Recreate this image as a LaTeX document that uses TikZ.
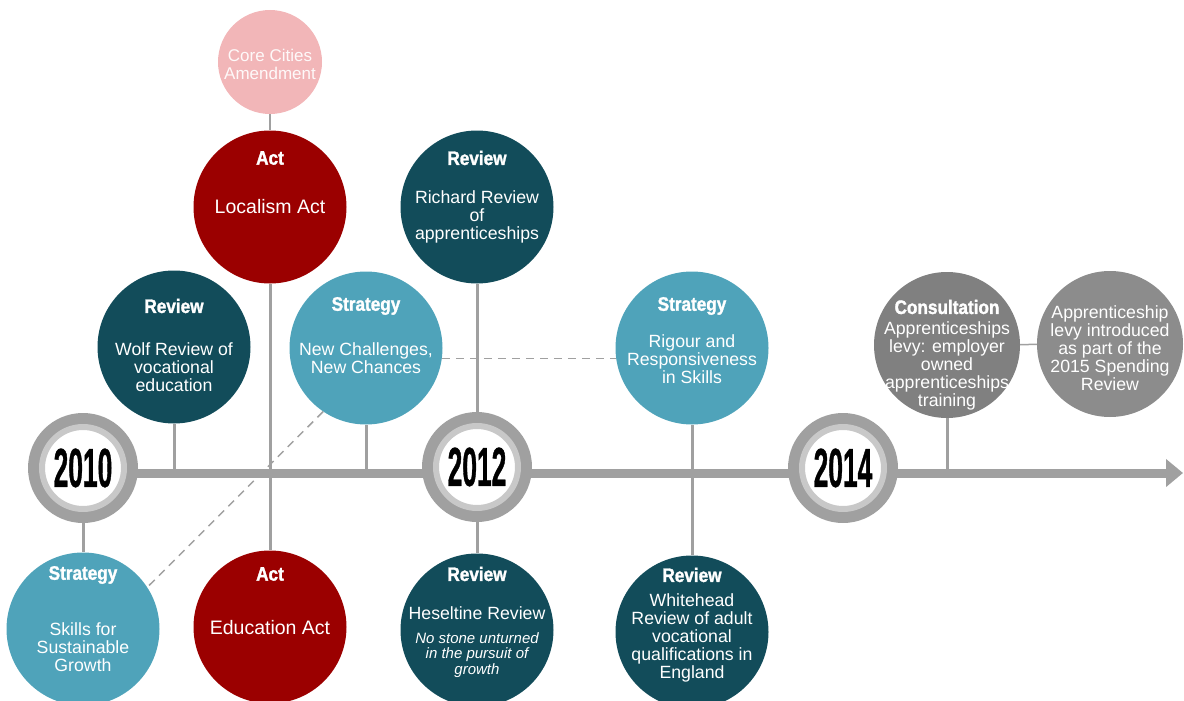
\documentclass[tikz,border=0pt]{standalone}
\usepackage{fontspec}
\setmainfont{Liberation Sans}
\newfontfamily\headfont{Liberation Sans}[FakeStretch=0.88,FakeBold=1.5]
\newfontfamily\yearfont{Liberation Sans}[FakeStretch=0.48,FakeBold=0.6]
\usetikzlibrary{arrows.meta}

\definecolor{actred}{RGB}{155,0,0}
\definecolor{revteal}{RGB}{18,76,90}
\definecolor{strteal}{RGB}{79,163,186}
\definecolor{corepink}{RGB}{242,182,184}
\definecolor{consgray}{RGB}{128,128,128}
\definecolor{levygray}{RGB}{140,140,140}
\definecolor{ringgray}{RGB}{160,160,160}
\definecolor{ringlight}{RGB}{200,200,200}
\definecolor{linegray}{RGB}{160,160,160}

\begin{document}
\begin{tikzpicture}[x=1pt,y=-1pt,
  event/.style={circle,minimum size=153,inner sep=0},
  head/.style={text=white,font=\headfont\bfseries\fontsize{19.5}{19.5}\selectfont},
  body/.style={text=white,align=center,font=\fontsize{17.7}{18}\selectfont},
  yearbox/.style={circle,minimum size=110,inner sep=0,fill=ringgray},
  yearin/.style={circle,minimum size=82,inner sep=0,fill=white,draw=ringlight,line width=6,
    font=\yearfont\bfseries\fontsize{55}{55}\selectfont},
  conn/.style={draw=linegray,line width=3}]
\useasboundingbox (0,0) rectangle (1184,701);

% timeline
\coordinate (start) at (83,473);
\coordinate (tip) at (1183,473);
\draw[linegray,line width=9,-{Triangle[length=17pt,width=27pt]}] (start) -- (tip);

% event circles
\path (270,62) node[event,minimum size=104,fill=corepink] (core) {};
\path (270,207) node[event,fill=actred] (loc) {};
\path (270,627) node[event,fill=actred] (edu) {};
\path (174,347) node[event,fill=revteal] (wolf) {};
\path (366,348) node[event,fill=strteal] (nc) {};
\path (83,629) node[event,fill=strteal] (ss) {};
\path (477,207) node[event,fill=revteal] (rich) {};
\path (477,630) node[event,fill=revteal] (hes) {};
\path (692,348) node[event,fill=strteal] (rig) {};
\path (692,632) node[event,fill=revteal] (white) {};
\path (947,345) node[event,minimum size=146,fill=consgray] (cons) {};
\path (1110,344) node[event,minimum size=146,fill=levygray] (levy) {};

% year rings
\path (83,468) node[yearbox] (y2010) {};
\path (y2010.center) node[yearin] (t2010) {2010};
\path (477,467) node[yearbox] (y2012) {};
\path (y2012.center) node[yearin] (t2012) {2012};
\path (843,468) node[yearbox] (y2014) {};
\path (y2014.center) node[yearin] (t2014) {2014};

% connectors
\draw[draw=linegray,line width=1.5] (core) -- (loc);
\draw[conn] (loc) -- (edu);
\draw[conn] (wolf) -- (wolf |- start);
\draw[conn] (nc) -- (nc |- start);
\draw[conn] (y2010) -- (ss);
\draw[conn] (rich) -- (y2012);
\draw[conn] (y2012) -- (hes);
\draw[conn] (rig) -- (white);
\draw[conn] (cons) -- (cons |- start);
\draw[draw=linegray,line width=1.5] (cons) -- (levy);
\draw[draw=linegray,line width=1.5,dash pattern=on 8pt off 6pt] (nc.-8) -- (rig.188);
\draw[draw=linegray,line width=1.5,dash pattern=on 8pt off 6pt] (nc.236) -- (ss.33);

% texts
\path (core.center) ++(0,2) node[body,text=white!92!corepink,font=\fontsize{17}{18}\selectfont] (coret) {Core Cities\\Amendment};

\path (loc.center) ++(0,-49) node[head] (loch) {Act};
\path (loc.center) ++(0,0) node[body,font=\fontsize{19.5}{20}\selectfont] (loct) {Localism Act};

\path (edu.center) ++(0,-53) node[head] (eduh) {Act};
\path (edu.center) ++(0,1) node[body,font=\fontsize{19.5}{20}\selectfont] (edut) {Education Act};

\path (wolf.center) ++(0,-41) node[head] (wolfh) {Review};
\path (wolf.center) ++(0,20) node[body] (wolft) {Wolf Review of\\vocational\\education};

\path (nc.center) ++(0,-42) node[head] (nch) {Strategy};
\path (nc.center) ++(0,10) node[body] (nct) {New Challenges,\\New Chances};

\path (ss.center) ++(0,-54) node[head] (ssh) {Strategy};
\path (ss.center) ++(0,18) node[body] (sst) {Skills for\\Sustainable\\Growth};

\path (rich.center) ++(0,-49) node[head] (richh) {Review};
\path (rich.center) ++(0,10) node[body] (richt) {Richard Review\\of\\apprenticeships};

\path (hes.center) ++(0,-56) node[head] (hesh) {Review};
\path (hes.center) ++(0,-17) node[body] (hest) {Heseltine Review};
\path (hes.center) ++(0,25) node[body,font=\itshape\fontsize{15}{15.5}\selectfont] (hesi) {No stone unturned\\in the pursuit of\\growth};

\path (rig.center) ++(0,-42) node[head] (righ) {Strategy};
\path (rig.center) ++(0,11) node[body] (rigt) {Rigour and\\Responsiveness\\in Skills};

\path (white.center) ++(0,-57) node[head] (whiteh) {Review};
\path (white.center) ++(0,6) node[body] (whitet) {Whitehead\\Review of adult\\vocational\\qualifications in\\England};

\path (cons.center) ++(0,-38) node[head] (consh) {Consultation};
\path (cons.center) ++(0,21) node[body] (const) {Apprenticeships\\levy: employer\\owned\\apprenticeships\\training};

\path (levy.center) ++(0,4) node[body] (levyt) {Apprenticeship\\levy introduced\\as part of the\\2015 Spending\\Review};
\end{tikzpicture}
\end{document}
